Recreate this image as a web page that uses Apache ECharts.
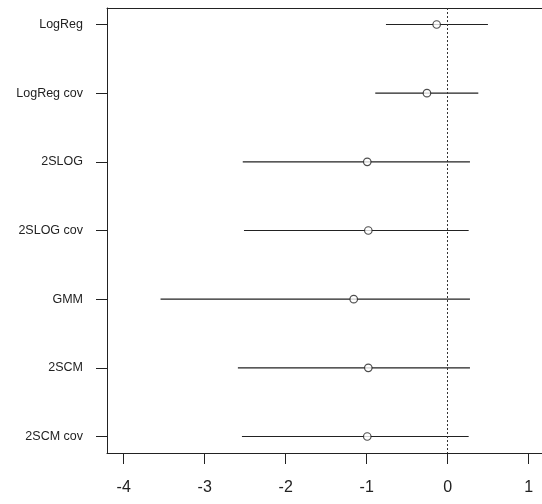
<!DOCTYPE html>
<html>
<head>
<meta charset="utf-8">
<script src="https://cdn.jsdelivr.net/npm/echarts@6/dist/echarts.min.js"></script>
<style>html,body{margin:0;padding:0;background:#fff;overflow:hidden;width:542px;height:504px}#c{width:600px;height:504px}</style>
</head>
<body>
<div id="c"></div>
<script>
const categories = ['LogReg', 'LogReg cov', '2SLOG', '2SLOG cov', 'GMM', '2SCM', '2SCM cov'];
const estimates = [-0.136, -0.256, -0.993, -0.98, -1.16, -0.98, -0.993];
const lower = [-0.762, -0.894, -2.53, -2.515, -3.545, -2.59, -2.54];
const upper = [0.497, 0.378, 0.275, 0.259, 0.275, 0.275, 0.259];
const xTicks = [-4, -3, -2, -1, 0, 1];
const rowPos = [1, 2, 3, 4, 5, 6, 7];

const chart = echarts.init(document.getElementById('c'));
const font = '"Liberation Sans", Arial, sans-serif';
const ink = '#222';

const intervals = categories.map((c, i) => [lower[i], upper[i], rowPos[i]]);
const points = categories.map((c, i) => [estimates[i], rowPos[i]]);

chart.setOption({
  animation: false,
  backgroundColor: '#fff',
  grid: { show: false, left: 107, top: 8, right: 13, bottom: 51 },
  xAxis: [{
    type: 'value', min: -4.206, max: 1.72, position: 'bottom',
    splitLine: { show: false },
    axisLine: { show: true, onZero: false, lineStyle: { color: ink, width: 1 } },
    axisTick: { show: true, length: 11, customValues: xTicks, lineStyle: { color: ink, width: 1 } },
    axisLabel: { customValues: xTicks, margin: 27, fontSize: 16, color: ink, fontFamily: font }
  }, {
    type: 'value', min: -4.206, max: 1.72, position: 'top',
    splitLine: { show: false },
    axisLine: { show: true, onZero: false, lineStyle: { color: ink, width: 1 } },
    axisTick: { show: false }, axisLabel: { show: false }
  }],
  yAxis: {
    type: 'value', min: 0.76, max: 7.24, inverse: true,
    splitLine: { show: false },
    axisLine: { show: true, onZero: false, lineStyle: { color: ink, width: 1 } },
    axisTick: { show: true, length: 11, customValues: rowPos, lineStyle: { color: ink, width: 1 } },
    axisLabel: {
      customValues: rowPos, margin: 24, fontSize: 12.5, color: ink, fontFamily: font,
      formatter: v => categories[Math.round(v) - 1]
    }
  },
  series: [{
    type: 'custom',
    data: intervals,
    renderItem: (params, api) => {
      const a = api.coord([api.value(0), api.value(2)]);
      const b = api.coord([api.value(1), api.value(2)]);
      return { type: 'line', shape: { x1: a[0], y1: a[1], x2: b[0], y2: b[1] },
        style: { stroke: ink, lineWidth: 1.2 } };
    },
    encode: { x: [0, 1], y: 2 },
    markLine: {
      silent: true, symbol: 'none', label: { show: false },
      lineStyle: { type: [2, 2], color: '#333', width: 1 },
      data: [{ xAxis: 0 }]
    },
    z: 2
  }, {
    type: 'scatter',
    data: points,
    symbol: 'circle', symbolSize: 7.5,
    itemStyle: { color: '#fff', borderColor: ink, borderWidth: 1.2 },
    z: 3
  }]
});
</script>
</body>
</html>
